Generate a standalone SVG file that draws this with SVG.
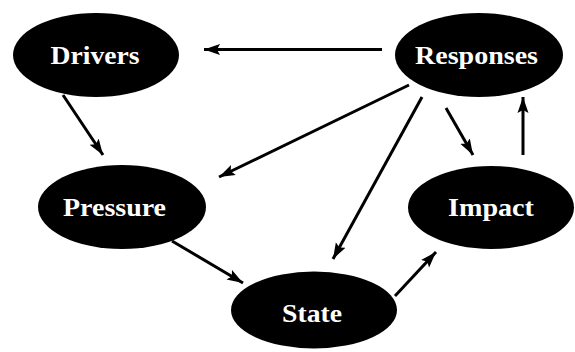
<svg xmlns="http://www.w3.org/2000/svg" width="575" height="352" viewBox="0 0 575 352">
<style>
.node ellipse{fill:#000}
.node text{fill:#fff;font-weight:bold;font-size:25px;text-anchor:middle}
.edge{stroke:#000;stroke-width:3;fill:none;marker-end:url(#ah)}
</style>
<defs>
<marker id="ah" markerUnits="userSpaceOnUse" markerWidth="18" markerHeight="12" refX="16" refY="6" orient="auto">
<path d="M0,0.5 L16,6 L0,11.5 L3,6 Z" fill="#000"/>
</marker>
</defs>
<rect width="575" height="352" fill="#fff"/>
<g id="connectors">
<line class="edge" x1="382" y1="49.5" x2="204" y2="49.5"/>
<line class="edge" x1="63" y1="95" x2="103" y2="155"/>
<line class="edge" x1="409" y1="85" x2="219" y2="177"/>
<line class="edge" x1="422" y1="97" x2="333" y2="259"/>
<line class="edge" x1="446" y1="108" x2="473" y2="155"/>
<line class="edge" x1="523" y1="155" x2="523" y2="97"/>
<line class="edge" x1="172" y1="241" x2="243" y2="283"/>
<line class="edge" x1="395" y1="296" x2="436" y2="252"/>
</g>
<g id="drivers" class="node"><ellipse cx="96" cy="55" rx="83" ry="42"/><text x="95" y="64" font-family="'Liberation Serif', 'DejaVu Serif', serif" textLength="89" lengthAdjust="spacingAndGlyphs">Drivers</text></g>
<g id="responses" class="node"><ellipse cx="479" cy="55" rx="84" ry="42"/><text x="476.5" y="64" font-family="'Liberation Serif', 'DejaVu Serif', serif" textLength="123" lengthAdjust="spacingAndGlyphs">Responses</text></g>
<g id="pressure" class="node"><ellipse cx="122" cy="207" rx="84" ry="42"/><text x="114.5" y="216" font-family="'Liberation Serif', 'DejaVu Serif', serif" textLength="103" lengthAdjust="spacingAndGlyphs">Pressure</text></g>
<g id="impact" class="node"><ellipse cx="491" cy="207.5" rx="83" ry="41.5"/><text x="491" y="216" font-family="'Liberation Serif', 'DejaVu Serif', serif" textLength="86" lengthAdjust="spacingAndGlyphs">Impact</text></g>
<g id="state" class="node"><ellipse cx="314" cy="310" rx="83" ry="38.5"/><text x="312" y="322" font-family="'Liberation Serif', 'DejaVu Serif', serif" textLength="60" lengthAdjust="spacingAndGlyphs">State</text></g>
</svg>
